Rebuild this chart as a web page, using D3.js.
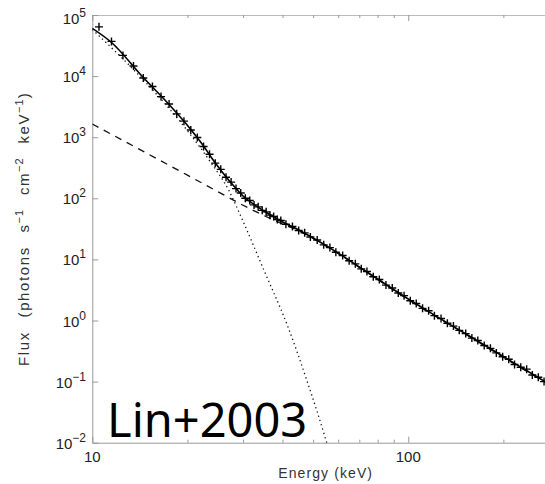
<!DOCTYPE html>
<html lang="en">
<head>
<meta charset="UTF-8">
<title>Lin+2003 spectrum</title>
<script src="https://d3js.org/d3.v7.min.js"></script>
<style>
    body { margin: 0; background: #fff; }
    svg { display: block; }
    .tick-label { font-family: "Liberation Sans", Arial, sans-serif; fill: #222; }
    .axis-title { font-family: "Liberation Sans", Arial, sans-serif; fill: #333; font-size: 14px; letter-spacing: 1.1px; }
</style>
</head>
<body>
<div id="chart"></div>
<script>
// Model curves (energy in keV, flux in photons s-1 cm-2 keV-1)
const modelE = [10, 11.5, 14.5, 17.5, 20.5, 22.5, 24, 27, 30, 33, 36, 40, 45, 50, 60, 70, 80, 100, 120, 150, 200, 250, 300];
const modelFlux = [60500, 35500, 9480, 3430, 1340, 718, 440, 200, 109, 75, 56.4, 40.9, 30.3, 22.4, 12.7, 7.5, 4.77, 2.25, 1.26, 0.63, 0.257, 0.128, 0.073];

const thermalE = [10, 15, 20, 23.6, 27, 30, 35, 41.6, 48, 55.2, 60];
const thermalFlux = [58000, 7200, 1280, 400, 137, 42, 6.5, 0.79, 0.097, 0.01, 0.0022];

const powerE = [10, 15, 20, 25, 30, 35, 40, 45, 50, 60, 70, 80, 100, 150, 200, 300];
const powerFlux = [1645, 533, 239, 128, 77, 52, 38, 29.5, 22, 12.5, 7.4, 4.7, 2.2, 0.62, 0.25, 0.072];

// Observed spectrum (crosses)
const spectrumE = [10.5, 11.5, 12.5, 13.5, 14.5, 15.5, 16.5, 17.5, 18.5, 19.5, 20.5, 21.5, 22.5, 23.5, 24.5,
    25.5, 26.5, 27.5, 28.5, 29.5, 30.5, 31.5, 32.5, 33.5, 34.5, 35.5, 36.5, 37.5, 38.5, 39.5,
    41, 43, 45, 47, 49, 51.5, 54, 56.5, 59, 62, 65, 68, 71, 74, 77.5, 81, 85, 89, 93, 97,
    101.5, 106, 111, 116, 121, 127, 133, 139, 145, 152, 159, 166, 174, 182, 190, 199, 208, 217, 227, 237, 247, 258, 269];
const spectrumFlux = [64000, 37000, 21800, 14600, 9300, 6750, 4620, 3500, 2410, 1830, 1310, 990, 705, 525, 376,
    298, 221, 184, 144, 122, 100, 92, 78, 72.5, 63.5, 60, 53, 50.5, 45, 43.2,
    37.6, 34.6, 29.8, 27.2, 23.2, 20.8, 17.3, 15.6, 13.1, 11.6, 9.5, 8.45, 7.0, 6.35, 5.2, 4.68, 3.8, 3.4, 2.82, 2.55,
    2.1, 1.9, 1.58, 1.44, 1.2, 1.08, 0.9, 0.81, 0.69, 0.61, 0.515, 0.47, 0.39, 0.35, 0.295, 0.255, 0.232, 0.19, 0.172, 0.16, 0.128, 0.118, 0.1];

// Axis ticks
const xMajorTicks = [10, 100];
const xMinorTicks = [20, 30, 40, 50, 60, 70, 80, 90, 200, 300];
const yTickExponents = [-2, -1, 0, 1, 2, 3, 4, 5];

const width = 545, height = 484;
const plot = { left: 92.3, right: 559, top: 15, bottom: 442.7 };

const svg = d3.select("#chart").append("svg")
    .attr("width", width)
    .attr("height", height);

const x = d3.scaleLog().domain([10, 300]).range([plot.left, plot.right]);
const y = d3.scaleLog().domain([1e-2, 1e5]).range([plot.bottom, plot.top]);

svg.append("clipPath").attr("id", "clip")
    .append("rect")
    .attr("x", plot.left).attr("y", plot.top)
    .attr("width", plot.right - plot.left).attr("height", plot.bottom - plot.top);

// Axes (ticks point inward)
const allX = xMajorTicks.concat(xMinorTicks);
function styleXAxis(g, dir) {
    g.select(".domain").attr("stroke", "#999");
    g.selectAll(".tick line")
        .attr("stroke", "#999")
        .attr("y2", d => dir * (xMajorTicks.includes(d) ? 6 : 3));
    g.selectAll(".tick text").remove();
}

svg.append("g")
    .attr("transform", `translate(0,${plot.bottom})`)
    .call(d3.axisBottom(x).tickValues(allX).tickSizeOuter(0))
    .call(g => styleXAxis(g, -1));

svg.append("g")
    .attr("transform", `translate(0,${plot.top})`)
    .call(d3.axisTop(x).tickValues(allX).tickSizeOuter(0))
    .call(g => styleXAxis(g, 1))
    .select(".domain").attr("stroke", "#bbb");

svg.append("g")
    .attr("transform", `translate(${plot.left},0)`)
    .call(d3.axisLeft(y).tickValues(yTickExponents.map(e => Math.pow(10, e))).tickSizeOuter(0).tickSizeInner(-6).tickFormat(""))
    .call(g => {
        g.select(".domain").attr("stroke", "#999");
        g.selectAll(".tick line").attr("stroke", "#999");
    });

// X tick labels
svg.selectAll(".xlab")
    .data(xMajorTicks)
    .enter().append("text")
    .attr("class", "tick-label")
    .attr("x", d => x(d))
    .attr("y", 462)
    .attr("text-anchor", "middle")
    .style("font-size", "15px")
    .text(d => d);

// Y tick labels: 10 with superscript exponent
const ylab = svg.selectAll(".ylab")
    .data(yTickExponents)
    .enter().append("text")
    .attr("class", "tick-label")
    .attr("x", 86)
    .attr("y", d => y(Math.pow(10, d)) + (d === 5 ? 9 : 6))
    .attr("text-anchor", "end")
    .style("font-size", "15px");
ylab.append("tspan").text("10");
ylab.append("tspan")
    .attr("dy", -7)
    .style("font-size", "12px")
    .text(d => d < 0 ? "\u2212" + (-d) : d);

// Axis titles
svg.append("text")
    .attr("class", "axis-title")
    .attr("x", (plot.left + plot.right) / 2)
    .attr("y", 478)
    .attr("text-anchor", "middle")
    .text("Energy (keV)");

const yTitle = svg.append("text")
    .attr("class", "axis-title")
    .attr("transform", `translate(29,${(plot.top + plot.bottom) / 2}) rotate(-90)`)
    .attr("text-anchor", "middle")
    .style("font-size", "15px")
    .style("letter-spacing", "1.6px")
    .style("word-spacing", "8px");
const titleParts = [["Flux (photons s", 0], ["\u22121", 1], [" cm", 0], ["\u22122", 1], [" keV", 0], ["\u22121", 1], [")", 0]];
let prevSup = 0;
titleParts.forEach(([t, sup]) => {
    const ts = yTitle.append("tspan").text(t);
    if (sup) ts.attr("dy", -6).style("font-size", "11px").style("letter-spacing", "1px");
    else if (prevSup) ts.attr("dy", 6);
    prevSup = sup;
});

// Curves
const plotArea = svg.append("g").attr("clip-path", "url(#clip)");

const line = d3.line()
    .x(d => x(d[0]))
    .y(d => y(d[1]))
    .curve(d3.curveMonotoneX);

plotArea.append("path")
    .datum(thermalE.map((e, i) => [e, thermalFlux[i]]))
    .attr("fill", "none")
    .attr("stroke", "#111")
    .attr("stroke-width", 1.3)
    .attr("stroke-dasharray", "1.3,3.2")
    .attr("d", line);

plotArea.append("path")
    .datum(powerE.map((e, i) => [e, powerFlux[i]]))
    .attr("fill", "none")
    .attr("stroke", "#111")
    .attr("stroke-width", 1.3)
    .attr("stroke-dasharray", "7,6")
    .attr("d", line);

plotArea.append("path")
    .datum(modelE.map((e, i) => [e, modelFlux[i]]))
    .attr("fill", "none")
    .attr("stroke", "#000")
    .attr("stroke-width", 1.6)
    .attr("d", line);

// Data crosses
const cross = plotArea.selectAll(".pt")
    .data(spectrumE.map((e, i) => [e, spectrumFlux[i]]))
    .enter().append("g")
    .attr("transform", d => `translate(${x(d[0])},${y(d[1])})`);
cross.append("line").attr("x1", -4).attr("x2", 4).attr("stroke", "#000").attr("stroke-width", 1.4);
cross.append("line").attr("y1", -4).attr("y2", 4).attr("stroke", "#000").attr("stroke-width", 1.4);

// Annotation
svg.append("text")
    .attr("x", 107)
    .attr("y", 437)
    .style("font-family", "'Noto Sans', 'Open Sans', sans-serif")
    .style("font-size", "47px")
    .style("fill", "#000")
    .text("Lin+2003");
</script>
</body>
</html>
